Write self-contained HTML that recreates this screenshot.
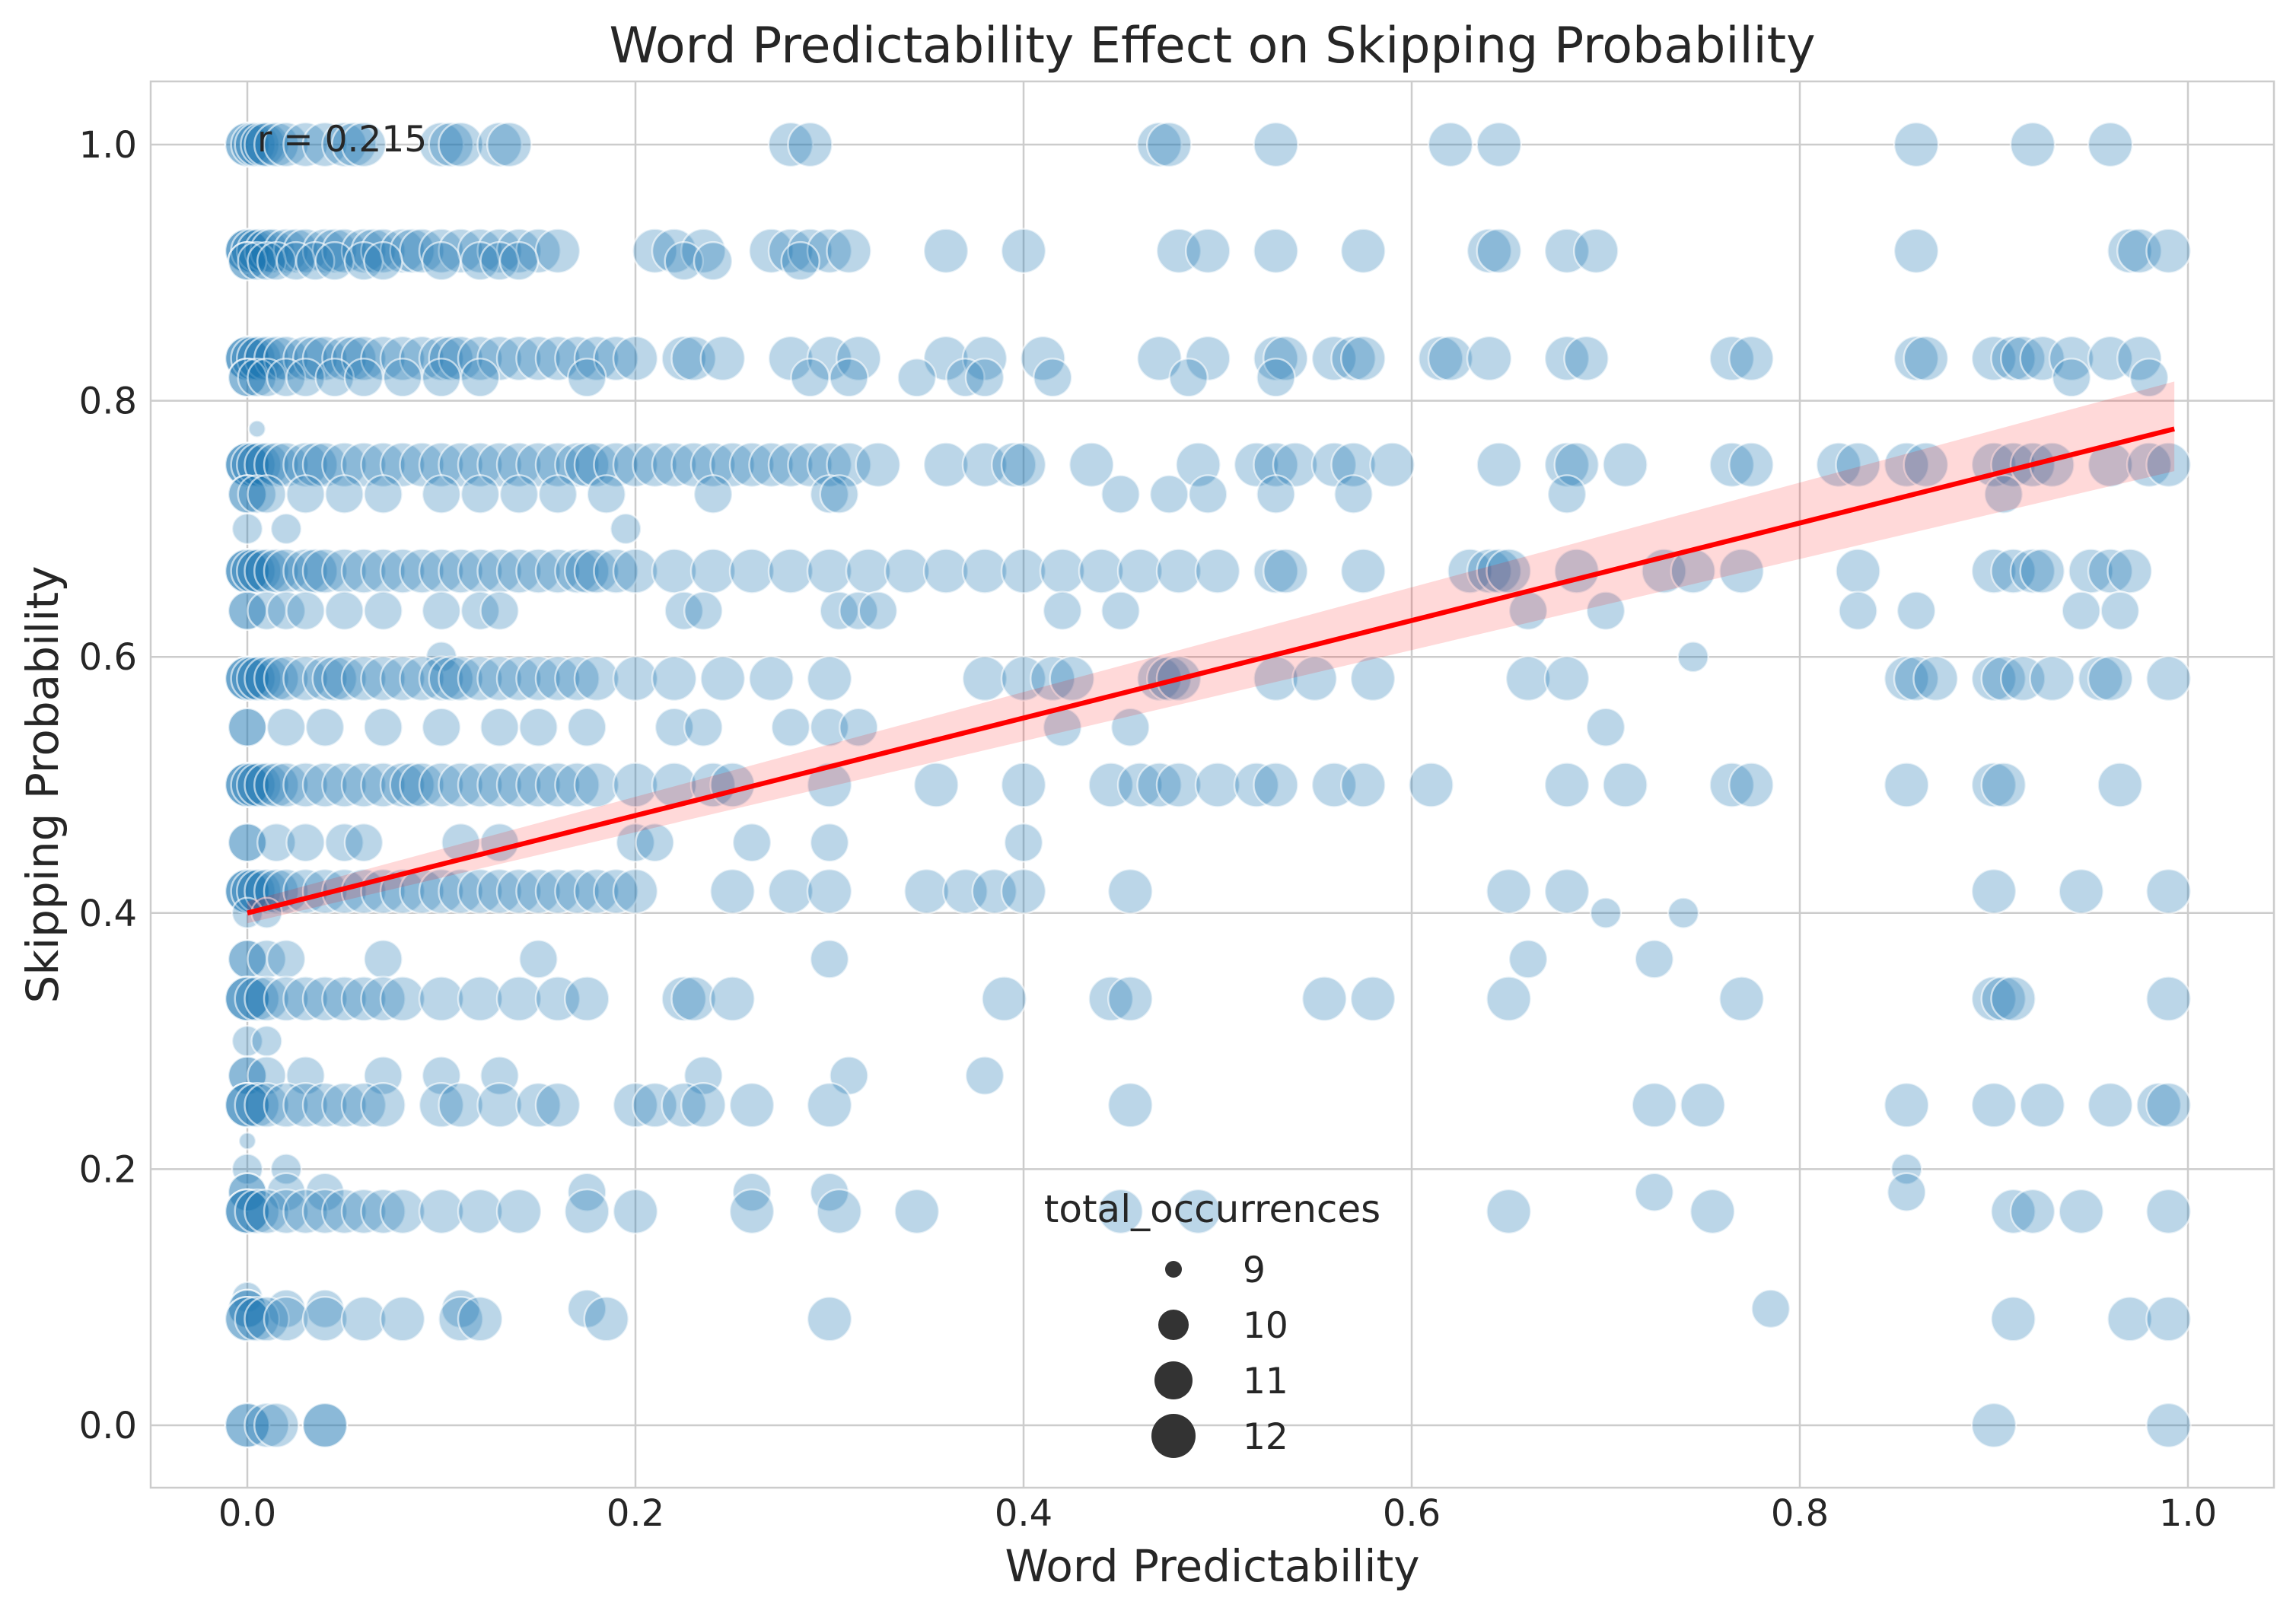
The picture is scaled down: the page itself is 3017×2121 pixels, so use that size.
<!DOCTYPE html>
<html><head><meta charset="utf-8"><style>
html,body{margin:0;padding:0;background:#fff}
svg{display:block}
text{font-family:"DejaVu Sans","Liberation Sans",sans-serif;fill:#262626}
</style></head><body>
<svg id="chart" width="3017" height="2121" viewBox="0 0 3017 2121" xmlns="http://www.w3.org/2000/svg">
<rect x="0" y="0" width="3017" height="2121" fill="#fff"/>
<g id="grid"></g>
<g id="points"></g>
<g id="reg"></g>
<rect x="198" y="107" width="2790" height="1848" fill="none" stroke="#cccccc" stroke-width="2.5"/>
<g id="ticks"></g>
<text x="1593" y="82" font-size="65" text-anchor="middle">Word Predictability Effect on Skipping Probability</text>
<text x="1593" y="2078" font-size="58" text-anchor="middle">Word Predictability</text>
<text x="0" y="0" font-size="58" text-anchor="middle" transform="translate(76,1031) rotate(-90)">Skipping Probability</text>
<text x="338" y="199" font-size="47">r = 0.215</text>
<g id="legend">
<text x="1593" y="1606" font-size="50" text-anchor="middle">total_occurrences</text>
</g>
</svg>
<script>
const xTicks=[0,0.2,0.4,0.6,0.8,1.0];
const yTicks=[0,0.2,0.4,0.6,0.8,1.0];
const rowY=[1.0,0.917,0.909,0.833,0.818,0.778,0.75,0.727,0.7,0.667,0.636,0.6,0.583,0.545,0.5,0.455,0.417,0.4,0.364,0.333,0.3,0.273,0.25,0.222,0.2,0.182,0.167,0.1,0.091,0.083,0.0];
const rowSize=[12,12,11,12,11,9,12,11,10,12,11,10,12,11,12,11,12,10,11,12,10,11,12,9,10,11,12,10,11,12,12];
const rowX=[
[0,0,0.003,0.005,0.008,0.01,0.015,0.02,0.03,0.04,0.05,0.055,0.06,0.1,0.105,0.11,0.13,0.135,0.28,0.29,0.47,0.475,0.53,0.62,0.645,0.86,0.92,0.96],
[0,0,0,0.003,0.006,0.01,0.013,0.02,0.025,0.03,0.04,0.045,0.05,0.06,0.065,0.07,0.08,0.085,0.09,0.1,0.11,0.12,0.13,0.14,0.15,0.16,0.21,0.22,0.235,0.27,0.28,0.29,0.3,0.31,0.36,0.4,0.48,0.495,0.53,0.575,0.64,0.645,0.68,0.695,0.86,0.97,0.975,0.99],
[0,0,0.005,0.01,0.015,0.025,0.035,0.045,0.06,0.07,0.1,0.12,0.13,0.14,0.225,0.24,0.285],
[0,0,0,0.003,0.006,0.01,0.015,0.02,0.03,0.035,0.04,0.05,0.055,0.06,0.07,0.08,0.09,0.1,0.105,0.11,0.12,0.13,0.14,0.15,0.16,0.17,0.18,0.19,0.2,0.225,0.23,0.245,0.28,0.3,0.315,0.36,0.38,0.41,0.47,0.495,0.53,0.535,0.56,0.57,0.575,0.615,0.62,0.64,0.68,0.69,0.765,0.775,0.86,0.865,0.9,0.91,0.915,0.925,0.94,0.96,0.975],
[0,0,0.005,0.01,0.02,0.03,0.045,0.06,0.08,0.1,0.12,0.175,0.29,0.31,0.345,0.37,0.38,0.415,0.485,0.53,0.94,0.98],
[0.005],
[0,0,0,0.003,0.006,0.01,0.015,0.02,0.03,0.035,0.04,0.05,0.06,0.07,0.08,0.09,0.1,0.11,0.12,0.13,0.14,0.15,0.16,0.17,0.175,0.18,0.19,0.2,0.21,0.22,0.23,0.24,0.25,0.26,0.27,0.28,0.29,0.3,0.31,0.325,0.36,0.38,0.395,0.4,0.435,0.49,0.52,0.53,0.54,0.56,0.57,0.59,0.645,0.68,0.685,0.71,0.765,0.775,0.82,0.83,0.855,0.865,0.9,0.91,0.92,0.93,0.96,0.98,0.99],
[0,0,0.005,0.01,0.03,0.05,0.07,0.1,0.12,0.14,0.16,0.185,0.24,0.3,0.305,0.45,0.475,0.495,0.53,0.57,0.68,0.905],
[0,0.02,0.195],
[0,0,0,0.003,0.006,0.01,0.015,0.02,0.03,0.035,0.04,0.05,0.06,0.07,0.08,0.09,0.1,0.11,0.12,0.13,0.14,0.15,0.16,0.17,0.175,0.18,0.19,0.2,0.22,0.24,0.26,0.28,0.3,0.32,0.34,0.36,0.38,0.4,0.42,0.44,0.46,0.48,0.5,0.53,0.535,0.575,0.63,0.64,0.645,0.65,0.685,0.73,0.745,0.77,0.83,0.9,0.91,0.92,0.925,0.95,0.96,0.97],
[0,0,0.01,0.02,0.03,0.05,0.07,0.1,0.12,0.13,0.225,0.235,0.305,0.315,0.325,0.42,0.45,0.66,0.7,0.83,0.86,0.945,0.965],
[0.1,0.745],
[0,0,0,0.003,0.006,0.01,0.015,0.02,0.03,0.04,0.045,0.05,0.06,0.07,0.08,0.09,0.1,0.105,0.11,0.12,0.13,0.14,0.15,0.16,0.17,0.18,0.2,0.22,0.245,0.27,0.3,0.38,0.4,0.415,0.425,0.47,0.475,0.48,0.53,0.55,0.58,0.66,0.68,0.855,0.86,0.87,0.9,0.905,0.915,0.93,0.955,0.96,0.99],
[0,0,0.02,0.04,0.07,0.1,0.13,0.15,0.175,0.22,0.235,0.28,0.3,0.315,0.42,0.455,0.7],
[0,0,0,0.003,0.006,0.01,0.015,0.02,0.03,0.04,0.05,0.06,0.07,0.08,0.085,0.09,0.1,0.11,0.12,0.13,0.14,0.15,0.16,0.17,0.18,0.2,0.22,0.24,0.25,0.3,0.355,0.4,0.445,0.46,0.47,0.48,0.5,0.52,0.53,0.56,0.575,0.61,0.68,0.71,0.765,0.775,0.855,0.9,0.905,0.965],
[0,0,0.015,0.03,0.05,0.06,0.11,0.13,0.2,0.21,0.26,0.3,0.4],
[0,0,0,0.003,0.006,0.01,0.015,0.02,0.03,0.04,0.05,0.06,0.07,0.08,0.09,0.1,0.11,0.12,0.13,0.14,0.15,0.16,0.17,0.18,0.19,0.2,0.25,0.28,0.3,0.35,0.37,0.385,0.4,0.455,0.65,0.68,0.9,0.945,0.99],
[0,0.01,0.7,0.74],
[0,0,0.01,0.02,0.07,0.15,0.3,0.66,0.725],
[0,0,0,0.005,0.01,0.02,0.03,0.04,0.05,0.06,0.07,0.08,0.1,0.12,0.14,0.16,0.175,0.225,0.23,0.25,0.39,0.445,0.455,0.555,0.58,0.65,0.77,0.9,0.905,0.91,0.99],
[0,0.01],
[0,0,0.01,0.03,0.07,0.1,0.13,0.235,0.31,0.38],
[0,0,0,0.005,0.01,0.02,0.03,0.04,0.05,0.06,0.07,0.1,0.11,0.13,0.15,0.16,0.2,0.21,0.225,0.235,0.26,0.3,0.455,0.725,0.75,0.855,0.9,0.925,0.96,0.985,0.99],
[0],
[0,0.02,0.855],
[0,0,0.02,0.04,0.175,0.26,0.3,0.725,0.855],
[0,0,0,0.005,0.01,0.02,0.03,0.04,0.05,0.06,0.07,0.08,0.1,0.12,0.14,0.175,0.2,0.26,0.305,0.345,0.45,0.49,0.65,0.755,0.91,0.92,0.945,0.99],
[0],
[0,0,0.02,0.04,0.11,0.175,0.785],
[0,0,0.005,0.01,0.02,0.04,0.06,0.08,0.11,0.12,0.185,0.3,0.91,0.97,0.99],
[0,0,0.01,0.015,0.04,0.04,0.9,0.99]
];
const regX=[0,0.993];
const regY=[0.40,0.778];
const ciLo=[0.392,0.745];
const ciHi=[0.409,0.815];
const legendVals=[9,10,11,12];

const NS="http://www.w3.org/2000/svg";
function xs(v){return 325+v*2550;}
function ys(v){return 1873-v*1683;}
function rad(s){return {9:11,10:20,11:25,12:29}[s];}
function mk(tag,attrs,parent){const e=document.createElementNS(NS,tag);for(const k in attrs)e.setAttribute(k,attrs[k]);parent.appendChild(e);return e;}

const grid=document.getElementById('grid');
xTicks.forEach(t=>{const l=mk('line',{x1:xs(t),x2:xs(t),y1:107,y2:1955,stroke:'#cccccc','stroke-width':2.5},grid);

});
yTicks.forEach(t=>{const l=mk('line',{x1:198,x2:2988,y1:ys(t),y2:ys(t),stroke:'#cccccc','stroke-width':2.5},grid);

});

const ticks=document.getElementById('ticks');
xTicks.forEach(t=>{const e=mk('text',{x:xs(t),y:2005,'font-size':48,'text-anchor':'middle'},ticks);e.textContent=t.toFixed(1);

});
yTicks.forEach(t=>{const e=mk('text',{x:180,y:ys(t)+17,'font-size':48,'text-anchor':'end'},ticks);e.textContent=t.toFixed(1);

});

const pts=document.getElementById('points');
rowY.forEach((y,i)=>{rowX[i].forEach(x=>{const c=mk('circle',{cx:xs(x),cy:ys(y),r:rad(rowSize[i]),fill:'rgba(31,119,180,0.3)',stroke:'rgba(255,255,255,0.6)','stroke-width':2.5},pts);

});});

const reg=document.getElementById('reg');
const band=mk('polygon',{points:`${xs(regX[0])},${ys(ciHi[0])} ${xs(regX[1])},${ys(ciHi[1])} ${xs(regX[1])},${ys(ciLo[1])} ${xs(regX[0])},${ys(ciLo[0])}`,fill:'rgba(255,0,0,0.15)'},reg);


const line=mk('line',{x1:xs(regX[0]),y1:ys(regY[0]),x2:xs(regX[1]),y2:ys(regY[1]),stroke:'#ff0000','stroke-width':6.5},reg);



const leg=document.getElementById('legend');
legendVals.forEach((v,i)=>{const cy=1668+i*73;
const c=mk('circle',{cx:1542,cy:cy,r:rad(v),fill:'#333333'},leg);


const t=mk('text',{x:1633,y:cy+17,'font-size':47},leg);t.textContent=v;

});
</script>
</body></html>
